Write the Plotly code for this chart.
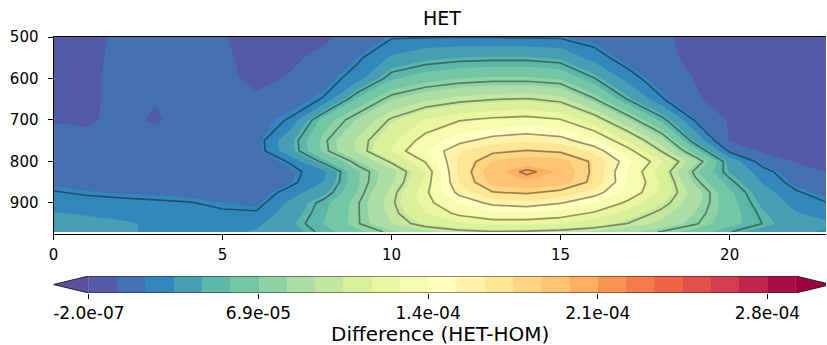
import numpy as np
import plotly.graph_objects as go

# ---------------- data ----------------
hours = list(range(24))
pressure = [500, 550, 600, 650, 700, 750, 775, 800, 825, 850, 875, 900, 925, 950, 970]

# HET-HOM difference per pressure level, units of 1e-5
d500 = [0.56, 0.67, 1.48, 1.71, 1.60, 1.25, 0.56, 0.56, 0.90, 1.70, 2.40, 2.45, 2.45, 2.45, 2.40, 2.35, 2.00, 1.70, 1.35, 0.70, 0.56, 0.56, 0.56, 0.56]
d550 = [0.56, 0.67, 1.60, 1.83, 1.71, 1.37, 0.67, 0.90, 1.48, 2.30, 3.60, 4.30, 4.60, 4.70, 4.70, 4.40, 3.00, 1.90, 1.37, 0.90, 0.67, 0.56, 0.56, 0.56]
d600 = [0.56, 0.79, 1.60, 1.83, 1.83, 1.48, 0.79, 1.25, 1.94, 3.00, 5.60, 6.40, 6.90, 7.10, 7.10, 6.80, 5.05, 3.00, 1.71, 1.08, 0.79, 0.67, 0.56, 0.56]
d650 = [0.56, 0.79, 1.60, 1.19, 1.71, 1.71, 1.37, 1.83, 2.60, 6.00, 8.00, 9.00, 9.60, 9.95, 10.10, 9.60, 7.60, 4.90, 2.60, 1.25, 0.67, 0.56, 0.56, 0.56]
d700 = [1.08, 0.90, 1.60, 0.96, 1.71, 1.83, 1.94, 2.60, 6.30, 8.20, 10.20, 11.60, 12.40, 12.80, 13.00, 12.60, 10.80, 8.20, 5.40, 2.30, 1.02, 0.67, 0.56, 0.56]
d750 = [1.48, 1.60, 1.71, 1.71, 1.71, 1.71, 1.95, 4.30, 7.30, 9.40, 11.30, 13.00, 14.60, 15.60, 16.00, 15.60, 14.00, 11.40, 8.60, 4.30, 1.08, 0.90, 0.67, 0.56]
d775 = [1.60, 1.71, 1.71, 1.83, 1.71, 1.71, 1.90, 4.20, 7.20, 9.40, 11.60, 13.80, 16.00, 17.20, 17.60, 17.30, 15.80, 13.00, 9.90, 6.20, 2.30, 0.95, 0.67, 0.67]
d800 = [1.60, 1.71, 1.71, 1.71, 1.71, 1.71, 1.71, 2.60, 5.40, 8.00, 10.20, 12.60, 16.40, 18.60, 19.20, 18.90, 17.20, 14.20, 11.60, 8.40, 4.20, 1.90, 1.02, 0.90]
d825 = [1.71, 1.71, 1.71, 1.71, 1.71, 1.60, 1.48, 2.13, 3.20, 6.80, 8.80, 11.50, 16.50, 19.30, 20.20, 19.50, 17.15, 13.60, 10.90, 7.10, 4.50, 2.90, 1.60, 1.05]
d850 = [2.06, 1.94, 1.83, 1.83, 1.71, 1.71, 1.60, 2.20, 3.50, 6.80, 9.00, 11.80, 16.20, 19.00, 19.50, 19.20, 17.00, 13.80, 11.30, 7.80, 5.30, 3.30, 2.00, 1.50]
d875 = [2.58, 2.35, 2.23, 2.17, 2.06, 1.94, 1.83, 2.90, 4.30, 7.00, 9.60, 12.20, 15.40, 17.40, 17.70, 17.00, 15.60, 13.40, 11.20, 8.60, 6.00, 3.90, 2.60, 1.94]
d900 = [2.98, 2.87, 2.75, 2.64, 2.55, 2.30, 2.06, 3.70, 5.40, 7.40, 9.80, 12.00, 14.00, 15.40, 15.80, 15.10, 13.90, 12.20, 10.50, 8.40, 6.20, 4.30, 3.00, 2.45]
d925 = [3.50, 3.33, 3.21, 2.98, 2.87, 2.64, 2.64, 4.00, 5.60, 7.40, 9.60, 11.50, 12.80, 13.60, 13.60, 13.20, 12.30, 11.00, 9.60, 8.00, 6.30, 4.70, 3.50, 2.98]
d950 = [3.91, 3.79, 3.56, 3.33, 3.21, 3.10, 3.21, 4.37, 5.80, 7.40, 9.20, 10.60, 11.40, 11.80, 11.80, 11.50, 10.90, 9.95, 8.90, 7.60, 6.20, 4.95, 3.91, 3.56]
d970 = [3.79, 3.68, 3.56, 3.33, 3.21, 3.21, 3.56, 4.14, 5.30, 6.60, 7.80, 8.90, 9.60, 9.90, 9.80, 9.60, 9.10, 8.30, 7.40, 6.40, 5.05, 4.14, 3.56, 3.33]

rows = [d500, d550, d600, d650, d700, d750, d775, d800, d825, d850, d875, d900, d925, d950, d970]
z = np.array(rows) * 1e-5

# filled contour levels (colorbar scale)
vmin = -2.0e-7
step = 1.155e-5
n_bands = 25
levels = vmin + step * np.arange(n_bands + 1)
cbar_tick_idx = [0, 6, 12, 18, 24]
cbar_ticktext = ["%.1e" % levels[i] for i in cbar_tick_idx]

# line contour levels
line_start, line_end, line_step = 0.0, 2.75e-4, 2.5e-5

# ---------------- colours (Spectral_r) ----------------
spectral = ['#9e0142', '#d53e4f', '#f46d43', '#fdae61', '#fee08b', '#ffffbf',
            '#e6f598', '#abdda4', '#66c2a5', '#3288bd', '#5e4fa2'][::-1]
anch = np.array([[int(c[i:i + 2], 16) for i in (1, 3, 5)] for c in spectral], float)


def cmap(t):
    p = np.linspace(0, 1, len(anch))
    rgb = [np.interp(t, p, anch[:, k]) for k in range(3)]
    return 'rgb(%d,%d,%d)' % tuple(int(round(v)) for v in rgb)


band_colors = [cmap((j + 0.5) / n_bands) for j in range(n_bands)]
under_color = cmap(0.0)
over_color = cmap(1.0)
all_cols = [under_color] + band_colors + [over_color]
contour_cs = [[k / (len(all_cols) - 1), c] for k, c in enumerate(all_cols)]
bar_cs = [[k / (n_bands - 1), c] for k, c in enumerate(band_colors)]

W, H = 827, 345
FONT = "DejaVu Sans"


def px_x(p):
    return p / W


def px_y(p):
    return 1 - p / H


fig = go.Figure()

fig.add_trace(go.Contour(
    x=hours, y=pressure, z=z,
    autocontour=False,
    contours=dict(start=levels[0], end=levels[-1], size=step,
                  coloring='fill', showlines=False),
    colorscale=contour_cs, showscale=False,
    line=dict(width=0, smoothing=0), hoverinfo='skip'))

fig.add_trace(go.Contour(
    x=hours, y=pressure, z=z,
    autocontour=False,
    contours=dict(start=line_start, end=line_end, size=line_step,
                  coloring='none'),
    showscale=False,
    line=dict(width=1.7, color='rgba(0,0,0,0.4)', smoothing=0),
    hoverinfo='skip'))

# colorbar as its own small axis (index units of levels)
fig.add_trace(go.Heatmap(
    x=list(range(n_bands + 1)), y=[0, 1], z=[list(range(n_bands))],
    colorscale=bar_cs, zmin=0, zmax=n_bands - 1, showscale=False,
    xaxis='x2', yaxis='y2', hoverinfo='skip'))

ext = 0.05 * n_bands
tipL = -ext
tipR = n_bands + ext
shapes = [
    dict(type='path', xref='x2', yref='y2',
         path=f"M 0,0 L {tipL},0.5 L 0,1 Z",
         fillcolor=under_color, line=dict(width=0)),
    dict(type='path', xref='x2', yref='y2',
         path=f"M {n_bands},0 L {tipR},0.5 L {n_bands},1 Z",
         fillcolor=over_color, line=dict(width=0)),
    dict(type='path', xref='x2', yref='y2',
         path=f"M 0,0 L {n_bands},0 L {tipR},0.5 L {n_bands},1 L 0,1 L {tipL},0.5 Z",
         fillcolor='rgba(0,0,0,0)', line=dict(width=1, color='#222')),
]

x_dom = [px_x(53.5), px_x(826)]
bar_right_px = 826
bar_left_px = 53.5
ppl = (777.5 / (n_bands * 1.1))
x2_range = [tipL, tipL + (bar_right_px - bar_left_px) / ppl]

fig.update_layout(
    width=W, height=H,
    margin=dict(l=0, r=0, t=0, b=0, autoexpand=False),
    paper_bgcolor='white', plot_bgcolor='white',
    font=dict(family=FONT, color='black'),
    showlegend=False,
    shapes=shapes,
    xaxis=dict(domain=x_dom, range=[0, 22.85], anchor='y', automargin=False,
               tickvals=[0, 5, 10, 15, 20], ticks='outside', ticklen=5,
               tickwidth=1, tickcolor='black', ticklabelstandoff=2,
               showline=True, linecolor='black', linewidth=1, mirror=True,
               showgrid=False, zeroline=False,
               tickfont=dict(size=15, family=FONT, color='black')),
    yaxis=dict(domain=[px_y(234), px_y(37)], range=[975, 500], anchor='x',
               automargin=False,
               tickvals=[500, 600, 700, 800, 900], ticks='outside', ticklen=5,
               tickwidth=1, tickcolor='black', ticklabelstandoff=6,
               showline=True, linecolor='black', linewidth=1, mirror=False,
               showgrid=False, zeroline=False,
               tickfont=dict(size=15, family=FONT, color='black')),
    xaxis2=dict(domain=x_dom, range=x2_range, anchor='y2', automargin=False,
                tickvals=cbar_tick_idx, ticktext=cbar_ticktext,
                ticks='outside', ticklen=5, tickwidth=1, tickcolor='black',
                showline=False, showgrid=False, zeroline=False,
                tickfont=dict(size=17, family=FONT, color='black')),
    yaxis2=dict(domain=[px_y(293), px_y(276)], range=[0, 1], anchor='x2',
                visible=False, automargin=False),
    annotations=[
        dict(text='HET', xref='paper', yref='paper', x=px_x(442), y=px_y(18),
             xanchor='center', yanchor='middle', showarrow=False,
             font=dict(size=19, family=FONT, color='black')),
        dict(text='Difference (HET-HOM)', xref='paper', yref='paper',
             x=px_x(440), y=px_y(334), xanchor='center', yanchor='middle',
             showarrow=False, font=dict(size=20, family=FONT, color='black')),
    ],
)

fig.write_html("out.html")
